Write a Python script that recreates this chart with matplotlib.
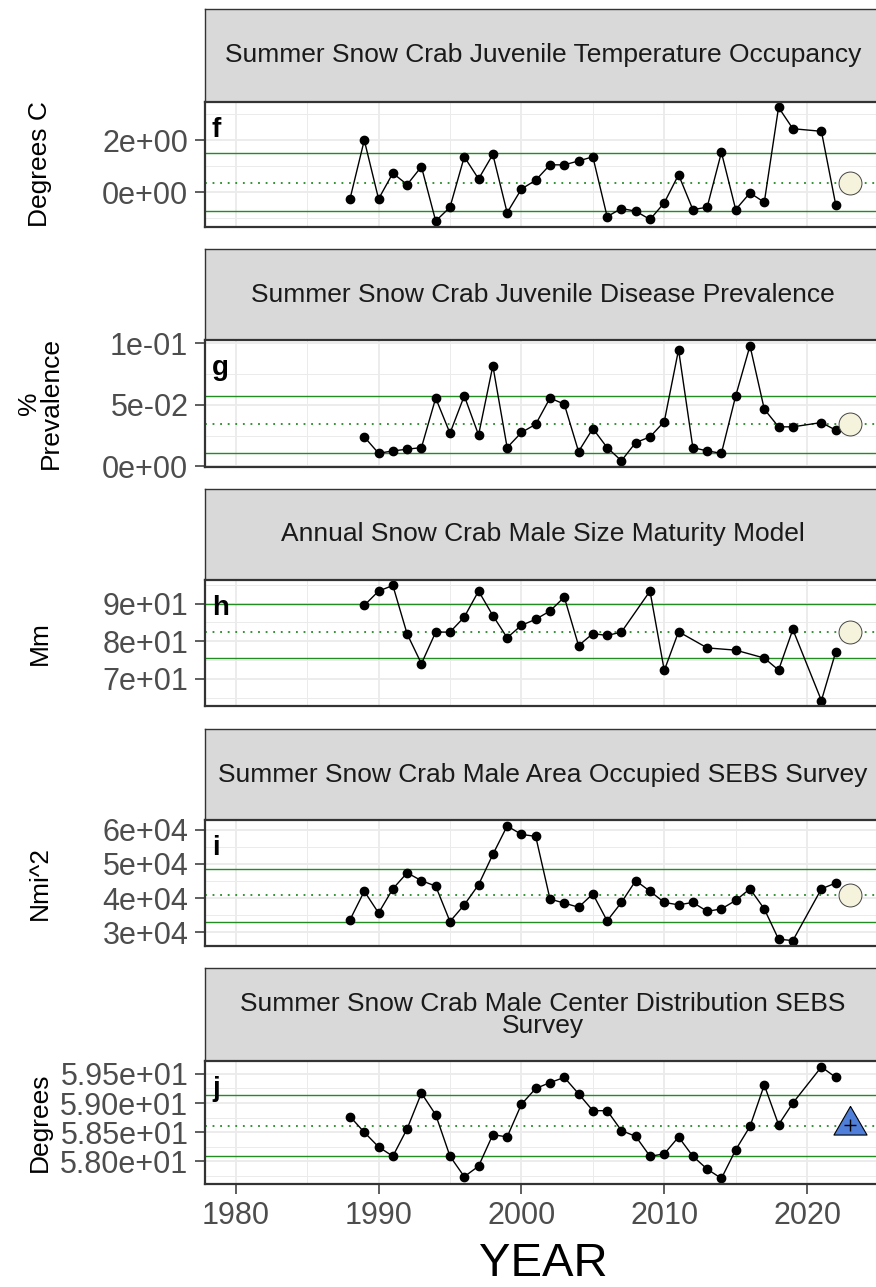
import matplotlib
matplotlib.use("Agg")
import matplotlib.pyplot as plt
from matplotlib.ticker import FixedLocator, FormatStrFormatter
import numpy as np

plt.rcParams['font.family'] = ['Liberation Sans', 'DejaVu Sans']

# ---------------------------------------------------------------- data
strip_titles = [
    "Summer Snow Crab Juvenile Temperature Occupancy",
    "Summer Snow Crab Juvenile Disease Prevalence",
    "Annual Snow Crab Male Size Maturity Model",
    "Summer Snow Crab Male Area Occupied SEBS Survey",
    "Summer Snow Crab Male Center Distribution SEBS\nSurvey",
]
panel_letters = ["f", "g", "h", "i", "j"]
y_titles = ["Degrees C", "%\nPrevalence", "Mm", "Nmi^2", "Degrees"]

years_temp = list(range(1988, 2020)) + [2021, 2022]
temp_occupancy = [-0.26, 2.00, -0.26, 0.73, 0.29, 0.98, -1.11, -0.58, 1.36, 0.51,
                  1.45, -0.79, 0.12, 0.46, 1.05, 1.05, 1.20, 1.36, -0.94, -0.63,
                  -0.73, -1.05, -0.41, 0.67, -0.67, -0.58, 1.53, -0.67, -0.03, -0.39,
                  3.26, 2.44, 2.34, -0.48]

years_disease = list(range(1989, 2020)) + [2021, 2022]
disease_prev = [0.0239, 0.0106, 0.0125, 0.0139, 0.0152, 0.0555, 0.0269, 0.0573, 0.0255,
                0.0818, 0.0152, 0.0275, 0.0342, 0.0555, 0.0506, 0.0120, 0.0307, 0.0152,
                0.0045, 0.0193, 0.0239, 0.0364, 0.0949, 0.0152, 0.0125, 0.0106, 0.0573,
                0.0981, 0.0465, 0.0321, 0.0321, 0.0356, 0.0294]

years_size = list(range(1989, 2008)) + [2009, 2010, 2011, 2013, 2015, 2017, 2018, 2019, 2021, 2022]
size_maturity = [89.5, 93.3, 94.8, 81.9, 74.0, 82.4, 82.4, 86.4, 93.3, 86.8,
                 80.9, 84.2, 85.8, 88.0, 91.7, 78.8, 82.0, 81.5, 82.4,
                 93.3, 72.2, 82.5, 78.2, 77.6, 75.5, 72.3, 83.1, 64.2, 77.1]

years_area = list(range(1988, 2020)) + [2021, 2022]
area_occupied = [33600, 42000, 35600, 42700, 47400, 45100, 43500, 33100, 38000, 43900,
                 52800, 61150, 58700, 58100, 39700, 38500, 37300, 41200, 33300, 38700,
                 45100, 42000, 38700, 38000, 38700, 36100, 36800, 39300, 42700, 36800,
                 27900, 27500, 42700, 44400]

years_center = list(range(1988, 2020)) + [2021, 2022]
center_dist = [58.77, 58.50, 58.25, 58.09, 58.56, 59.17, 58.80, 58.09, 57.74, 57.92,
               58.46, 58.42, 58.98, 59.25, 59.35, 59.44, 59.16, 58.87, 58.87, 58.53,
               58.43, 58.09, 58.13, 58.42, 58.09, 57.87, 57.71, 58.20, 58.60, 59.31,
               58.63, 59.00, 59.62, 59.44]

# reference lines: upper, mean, lower
ref_temp = [1.51, 0.35, -0.71]
ref_disease = [0.0568, 0.0342, 0.0106]
ref_size = [90.0, 82.4, 75.4]
ref_area = [48600, 41000, 33100]
ref_center = [59.13, 58.60, 58.09]

# current-status marker
status_year = 2023
status_values = [0.35, 0.0342, 82.4, 41000, 58.62]
status_kind = ["circle", "circle", "circle", "circle", "triangle"]

y_major_ticks = [
    [0, 2],
    [0, 0.05, 0.1],
    [70, 80, 90],
    [30000, 40000, 50000, 60000],
    [58.0, 58.5, 59.0, 59.5],
]
y_tick_formats = ['%.0e', '%.0e', '%.0e', '%.0e', '%.2e']

x_major_ticks = [1980, 1990, 2000, 2010, 2020]
x_limits_data = (1980, 2023)

series_years = [years_temp, years_disease, years_size, years_area, years_center]
series_values = [temp_occupancy, disease_prev, size_maturity, area_occupied, center_dist]
series_refs = [ref_temp, ref_disease, ref_size, ref_area, ref_center]

# ---------------------------------------------------------------- layout
W, H, DPI = 876, 1287, 100
fig = plt.figure(figsize=(W / DPI, H / DPI), dpi=DPI)
fig.patch.set_facecolor('white')

LEFT, RIGHT = 205.0, 880.7
panel_tops = [101.7, 340.0, 579.7, 820.3, 1061.3]
panel_bottoms = [226.7, 466.5, 706.3, 946.3, 1184.0]
strip_tops = [9.0, 249.0, 489.0, 729.0, 968.0]


def rect(l, t, r, b):
    return [l / W, 1 - b / H, (r - l) / W, (b - t) / H]


def expand(lo, hi, frac=0.05):
    pad = (hi - lo) * frac
    return lo - pad, hi + pad


xlo, xhi = expand(*x_limits_data)
x_minor = [t + 5 for t in x_major_ticks]

GRID = '#ebebeb'
BORDER = '#333333'
GREEN = '#228b22'
TICK_TXT = '#4d4d4d'
TICK_SIZE = 22

for i in range(5):
    # strip header
    sax = fig.add_axes(rect(LEFT, strip_tops[i], RIGHT, panel_tops[i]))
    sax.set_facecolor('#d9d9d9')
    sax.set_xticks([])
    sax.set_yticks([])
    for sp in sax.spines.values():
        sp.set_color(BORDER)
        sp.set_linewidth(1.0)
    sax.text(0.5, 0.5, strip_titles[i], transform=sax.transAxes, ha='center',
             va='center', fontsize=19, color='#1a1a1a', linespacing=0.9)

    ax = fig.add_axes(rect(LEFT, panel_tops[i], RIGHT, panel_bottoms[i]))
    yrs = series_years[i]
    vals = series_values[i]
    ylo, yhi = expand(min(vals), max(vals))
    ax.set_xlim(xlo, xhi)
    ax.set_ylim(ylo, yhi)

    majors = y_major_ticks[i]
    step = majors[1] - majors[0]
    minors = [m + step / 2 for m in majors] + [majors[0] - step / 2]
    minors = [m for m in minors if ylo <= m <= yhi]

    ax.yaxis.set_major_locator(FixedLocator(majors))
    ax.yaxis.set_minor_locator(FixedLocator(minors))
    ax.yaxis.set_major_formatter(FormatStrFormatter(y_tick_formats[i]))
    ax.xaxis.set_major_locator(FixedLocator(x_major_ticks))
    ax.xaxis.set_minor_locator(FixedLocator(x_minor))

    ax.grid(which='major', color=GRID, linewidth=1.3, zorder=0)
    ax.grid(which='minor', color=GRID, linewidth=0.7, zorder=0)
    ax.set_axisbelow(True)

    ax.tick_params(axis='y', which='major', length=7, width=1.1, color=BORDER,
                   labelsize=TICK_SIZE, labelcolor=TICK_TXT, pad=5)
    ax.tick_params(axis='y', which='minor', length=0)
    ax.tick_params(axis='x', which='minor', length=0)
    if i < 4:
        ax.tick_params(axis='x', which='major', length=0, labelbottom=False)
    else:
        ax.tick_params(axis='x', which='major', length=7, width=1.1, color=BORDER,
                       labelsize=TICK_SIZE, labelcolor=TICK_TXT, pad=5)
        ax.set_xlabel('YEAR', fontsize=34, color='black', labelpad=8)

    for sp in ax.spines.values():
        sp.set_color(BORDER)
        sp.set_linewidth(1.6)
        sp.set_zorder(10)

    up, mid, low = series_refs[i]
    ax.axhline(up, color=GREEN, lw=1.0, zorder=2)
    ax.axhline(low, color=GREEN, lw=1.0, zorder=2)
    ax.axhline(mid, color=GREEN, lw=1.3, ls=(0, (1, 3.2)), zorder=2)

    ax.plot(yrs, vals, color='black', lw=1.0, marker='o', ms=6.0,
            mfc='black', mec='black', zorder=4)

    if status_kind[i] == 'circle':
        ax.plot([status_year], [status_values[i]], marker='o', ms=16.5,
                mfc='#f5f3dc', mec='#444444', mew=0.7, ls='none', zorder=5)
    else:
        tri = [(0, 1), (-0.866, -0.5), (0.866, -0.5), (0, 1)]
        ax.plot([status_year], [status_values[i]], marker=tri, ms=27.5,
                mfc='#4f7fd8', mec='black', mew=0.8, ls='none', zorder=5)
        ax.plot([status_year], [status_values[i]], marker='+', ms=9,
                mec='black', mew=1.0, ls='none', zorder=6)

    ax.annotate(panel_letters[i], xy=(0, 1), xycoords='axes fraction',
                xytext=(7, -35), textcoords='offset pixels', ha='left',
                va='baseline', fontsize=20, fontweight='bold', color='black')

    ycen = (panel_tops[i] + panel_bottoms[i]) / 2
    fig.text(40 / W, 1 - ycen / H, y_titles[i], rotation=90, ha='center',
             va='center', fontsize=19, color='black', linespacing=0.9)

fig.savefig('out.png', dpi=DPI, facecolor='white')
